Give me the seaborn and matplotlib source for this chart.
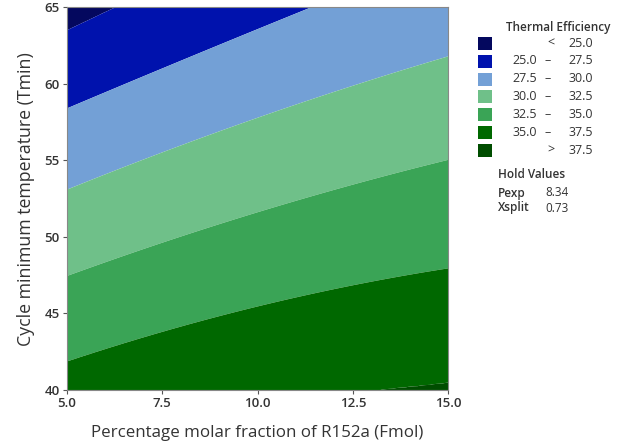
import numpy as np
import matplotlib
matplotlib.use("Agg")
import matplotlib.pyplot as plt
import seaborn as sns
from matplotlib.patches import Rectangle

# ---- data ----
x_knots = [5.0, 7.5, 10.0, 12.5, 15.0]          # Fmol
level_values = [25.0, 27.5, 30.0, 32.5, 35.0, 37.5]
# y (Tmin) position of each contour boundary at the x_knots
b_25_0 = [63.5, 66.5, 69.4, 72.3, 75.2]
b_27_5 = [58.4, 61.0, 63.6, 66.1, 68.6]
b_30_0 = [53.1, 55.5, 57.8, 59.9, 61.8]
b_32_5 = [47.5, 49.5, 51.65, 53.5, 55.0]
b_35_0 = [41.85, 43.8, 45.45, 46.85, 47.95]
b_37_5 = [38.2, 38.7, 39.2, 39.85, 40.45]

band_labels = ["<  25.0", "25.0  –  27.5", "27.5  –  30.0", "30.0  –  32.5",
               "32.5  –  35.0", "35.0  –  37.5", ">  37.5"]
band_colors = ["#04085e", "#0012ad", "#73a0d6", "#6fc089", "#3aa456", "#006800", "#004d00"]
hold_names = ["Pexp", "Xsplit"]
hold_vals = ["8.34", "0.73"]

sns.set_theme(style="ticks")
plt.rcParams["font.family"] = ["Open Sans", "DejaVu Sans"]

fig = plt.figure(figsize=(6.25, 4.46), dpi=100)
ax = fig.add_axes([0.1067, 0.1256, 0.6106, 0.8576])

# build gridded field from boundary curves (smoothed through the read points)
xs = np.linspace(5, 15, 300)
ys = np.linspace(40, 65, 300)
bounds = [b_25_0, b_27_5, b_30_0, b_32_5, b_35_0, b_37_5]
curves = [np.polyval(np.polyfit(x_knots, b, 2), xs) for b in bounds]
Z = np.zeros((len(ys), len(xs)))
lv = np.array(level_values)
for j in range(len(xs)):
    yb = np.array([c[j] for c in curves])
    yb_ext = np.concatenate([[yb[0] + 50], yb, [yb[-1] - 50]])
    lv_ext = np.concatenate([[lv[0] - 50], lv, [lv[-1] + 50]])
    order = np.argsort(yb_ext)
    Z[:, j] = np.interp(ys, yb_ext[order], lv_ext[order])

levels = [-1e3] + level_values + [1e3]
ax.contourf(xs, ys, Z, levels=levels, colors=band_colors, antialiased=True)

ax.set_xlim(5, 15)
ax.set_ylim(40, 65)
ax.set_xticks([5.0, 7.5, 10.0, 12.5, 15.0])
ax.set_xticklabels(["5.0", "7.5", "10.0", "12.5", "15.0"])
ax.set_yticks([40, 45, 50, 55, 60, 65])
ax.tick_params(axis="both", labelsize=9.5, length=3, width=0.8, colors="#555555",
               labelcolor="#333333", pad=2)
for lab in ax.get_xticklabels() + ax.get_yticklabels():
    lab.set_fontweight("semibold")
for s in ax.spines.values():
    s.set_color("#888888")
    s.set_linewidth(0.8)
ax.set_xlabel("Percentage molar fraction of R152a (Fmol)", fontsize=12.2,
              color="#333333", labelpad=11)
ax.set_ylabel("Cycle minimum temperature (Tmin)", fontsize=12.8,
              color="#333333", labelpad=7)

# legend
W, H = 625.0, 446.0
def fx(px): return px / W
def fy(py): return 1 - py / H

fig.text(fx(558), fy(27), "Thermal Efficiency", fontsize=8.5, ha="center",
         va="center", color="#333333", fontweight="semibold")
row_y = [43.3, 61, 79, 96.7, 114.3, 132.3, 150]
tk = dict(fontsize=9, va="center", color="#333333")
for yy, col, lab in zip(row_y, band_colors, band_labels):
    fig.patches.append(Rectangle((fx(478), fy(yy + 6.5)), 14 / W, 13 / H,
                                 transform=fig.transFigure, facecolor=col,
                                 edgecolor="none"))
    parts = lab.split()
    if len(parts) == 2:
        fig.text(fx(555), fy(yy), parts[0], ha="right", **tk)
        fig.text(fx(593), fy(yy), parts[1], ha="right", **tk)
    else:
        fig.text(fx(537), fy(yy), parts[0], ha="right", **tk)
        fig.text(fx(548), fy(yy), parts[1], ha="center", **tk)
        fig.text(fx(593), fy(yy), parts[2], ha="right", **tk)

fig.text(fx(498), fy(175), "Hold Values", fontsize=8.5, ha="left", va="center",
         color="#333333", fontweight="semibold")
for yy, n, v in zip([193, 208], hold_names, hold_vals):
    fig.text(fx(498), fy(yy), n, fontsize=8.5, ha="left", va="center", color="#333333",
             fontweight="semibold")
    fig.text(fx(545), fy(yy), v, fontsize=8.5, ha="left", va="center", color="#333333")

fig.savefig("out.png", dpi=100)
